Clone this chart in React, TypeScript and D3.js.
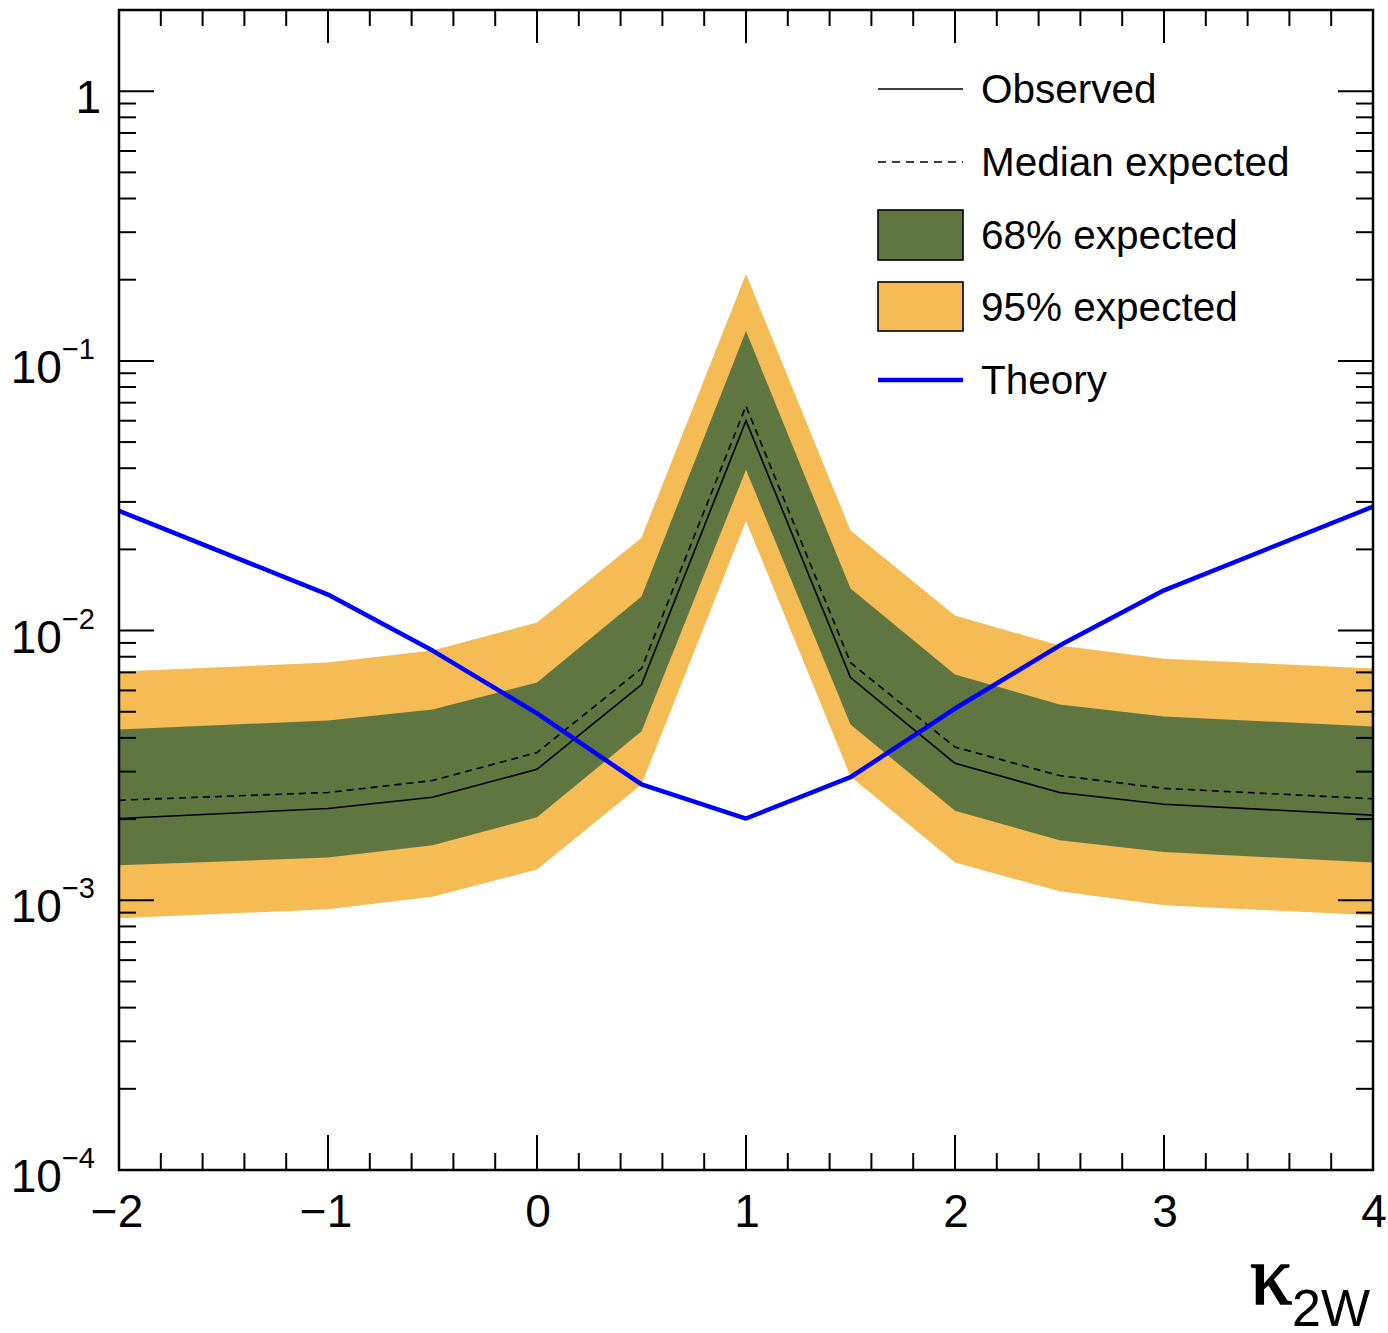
import React from "react";
import * as d3 from "d3";

const kappa2W = [-2, -1, -0.5, 0, 0.5, 1, 1.5, 2, 2.5, 3, 4];
const observed = [2.01e-3, 2.19e-3, 2.41e-3, 3.06e-3, 6.31e-3, 0.060, 6.7e-3, 3.22e-3, 2.51e-3, 2.27e-3, 2.07e-3];
const expected = [2.35e-3, 2.51e-3, 2.78e-3, 3.53e-3, 7.23e-3, 0.068, 7.6e-3, 3.7e-3, 2.9e-3, 2.6e-3, 2.38e-3];
const band68Up = [4.3e-3, 4.64e-3, 5.1e-3, 6.42e-3, 0.01337, 0.129, 0.01432, 6.87e-3, 5.32e-3, 4.8e-3, 4.41e-3];
const band68Down = [1.35e-3, 1.44e-3, 1.6e-3, 2.03e-3, 4.23e-3, 0.0395, 4.49e-3, 2.15e-3, 1.67e-3, 1.51e-3, 1.38e-3];
const band95Up = [7.05e-3, 7.61e-3, 8.43e-3, 0.01071, 0.0221, 0.21, 0.0235, 0.01137, 8.8e-3, 7.87e-3, 7.23e-3];
const band95Down = [8.58e-4, 9.27e-4, 1.03e-3, 1.3e-3, 2.69e-3, 0.0255, 2.88e-3, 1.38e-3, 1.08e-3, 9.58e-4, 8.8e-4];
const theory = [0.0278, 0.0136, 8.43e-3, 4.93e-3, 2.69e-3, 2.01e-3, 2.86e-3, 5.14e-3, 8.8e-3, 0.0141, 0.0288];

const xTicks = [-2, -1, 0, 1, 2, 3, 4];
const yDecades = [0, -1, -2, -3, -4];
const legendLabels = ["Observed", "Median expected", "68% expected", "95% expected", "Theory"];

const W = 1388, H = 1333;
const L = 119, R = 1373, T = 10, B = 1170;
const GREEN = "#607641";
const ORANGE = "#F5BB54";
const FONT = "'Liberation Sans', Arial, Helvetica, sans-serif";

export default function App() {
  const x = d3.scaleLinear().domain([-2, 4]).range([L, R]);
  const y = d3.scaleLog().domain([1e-4, 2]).range([B, T]);
  const idx = kappa2W.map((_, i) => i);

  const area = (up: number[], down: number[]) =>
    d3.area<number>().x((i) => x(kappa2W[i])).y0((i) => y(down[i])).y1((i) => y(up[i]))(idx) || "";
  const line = (vals: number[]) =>
    d3.line<number>().x((i) => x(kappa2W[i])).y((i) => y(vals[i]))(idx) || "";

  const xMinor: number[] = [];
  for (let v = -2; v <= 4.0001; v += 0.2) {
    const r = Math.round(v * 10) / 10;
    if (Math.abs(r - Math.round(r)) > 1e-6) xMinor.push(r);
  }
  const yMinor: number[] = [];
  for (let e = -4; e <= 0; e++) {
    for (let m = 2; m <= 9; m++) {
      const v = m * Math.pow(10, e);
      if (v <= 2) yMinor.push(v);
    }
  }

  const majorLen = 35, minorLen = 17;
  const legX0 = 878, legX1 = 963, legTX = 981;
  const legY = [89, 162, 235, 307, 380];

  return (
    <svg width={W} height={H} style={{ position: "absolute", left: 0, top: 0, background: "#fff" }} fontFamily={FONT}>
      <defs>
        <clipPath id="plotClip">
          <rect x={L} y={T} width={R - L} height={B - T} />
        </clipPath>
      </defs>
      <rect x={0} y={0} width={W} height={H} fill="#fff" />
      <g clipPath="url(#plotClip)">
        <path d={area(band95Up, band95Down)} fill={ORANGE} />
        <path d={area(band68Up, band68Down)} fill={GREEN} />
        <path d={line(expected)} fill="none" stroke="#000" strokeWidth={1.6} strokeDasharray="7,5" />
        <path d={line(observed)} fill="none" stroke="#000" strokeWidth={1.6} />
        <path d={line(theory)} fill="none" stroke="#0000ff" strokeWidth={4.5} strokeLinejoin="round" />
      </g>

      {/* ticks */}
      <g stroke="#000" strokeWidth={2}>
        {xTicks.map((v) => (
          <g key={"xt" + v}>
            <line x1={x(v)} x2={x(v)} y1={B} y2={B - majorLen} />
            <line x1={x(v)} x2={x(v)} y1={T} y2={T + majorLen - 2} />
          </g>
        ))}
        {xMinor.map((v) => (
          <g key={"xm" + v}>
            <line x1={x(v)} x2={x(v)} y1={B} y2={B - minorLen} />
            <line x1={x(v)} x2={x(v)} y1={T} y2={T + minorLen - 1} />
          </g>
        ))}
        {yDecades.map((e) => (
          <g key={"yt" + e}>
            <line x1={L} x2={L + majorLen} y1={y(Math.pow(10, e))} y2={y(Math.pow(10, e))} />
            <line x1={R} x2={R - majorLen} y1={y(Math.pow(10, e))} y2={y(Math.pow(10, e))} />
          </g>
        ))}
        {yMinor.map((v) => (
          <g key={"ym" + v}>
            <line x1={L} x2={L + minorLen} y1={y(v)} y2={y(v)} />
            <line x1={R} x2={R - minorLen} y1={y(v)} y2={y(v)} />
          </g>
        ))}
      </g>

      {/* frame */}
      <rect x={L} y={T} width={R - L} height={B - T} fill="none" stroke="#000" strokeWidth={2.5} />

      {/* x tick labels */}
      {xTicks.map((v) => (
        <text key={"xl" + v} x={x(v) + (v < 0 ? -2 : 1)} y={1227} fontSize={46} textAnchor="middle" fill="#000">
          {v < 0 ? "\u2212" + Math.abs(v) : String(v)}
        </text>
      ))}

      {/* y tick labels */}
      {yDecades.map((e) => {
        const yy = y(Math.pow(10, e));
        if (e === 0) {
          return (
            <text key={"yl" + e} x={101} y={yy + 22} fontSize={46} textAnchor="end" fill="#000">1</text>
          );
        }
        return (
          <text key={"yl" + e} x={95} y={yy + 22} fontSize={46} textAnchor="end" fill="#000">
            10
            <tspan fontSize={29} dy={-24}>{"\u2212" + Math.abs(e)}</tspan>
          </text>
        );
      })}

      {/* axis title */}
      <text x={1250} y={1304} fontSize={84} fontFamily="'Liberation Serif', 'DejaVu Serif', serif" fill="#000" stroke="#000" strokeWidth={1.5}>κ</text>
      <text x={1292} y={1326} fontSize={52} fill="#000">2W</text>

      {/* legend */}
      <line x1={legX0} x2={legX1} y1={legY[0]} y2={legY[0]} stroke="#000" strokeWidth={1.6} />
      <line x1={legX0} x2={legX1} y1={legY[1]} y2={legY[1]} stroke="#000" strokeWidth={1.6} strokeDasharray="8,6" />
      <rect x={legX0} y={legY[2] - 25} width={legX1 - legX0} height={50} fill={GREEN} stroke="#000" strokeWidth={1.6} />
      <rect x={legX0} y={legY[3] - 25} width={legX1 - legX0} height={49} fill={ORANGE} stroke="#000" strokeWidth={1.6} />
      <line x1={legX0} x2={legX1} y1={legY[4]} y2={legY[4]} stroke="#0000ff" strokeWidth={4.5} />
      {legendLabels.map((t, i) => (
        <text key={t} x={legTX} y={legY[i] + 14} fontSize={40.5} fill="#000">{t}</text>
      ))}
    </svg>
  );
}
